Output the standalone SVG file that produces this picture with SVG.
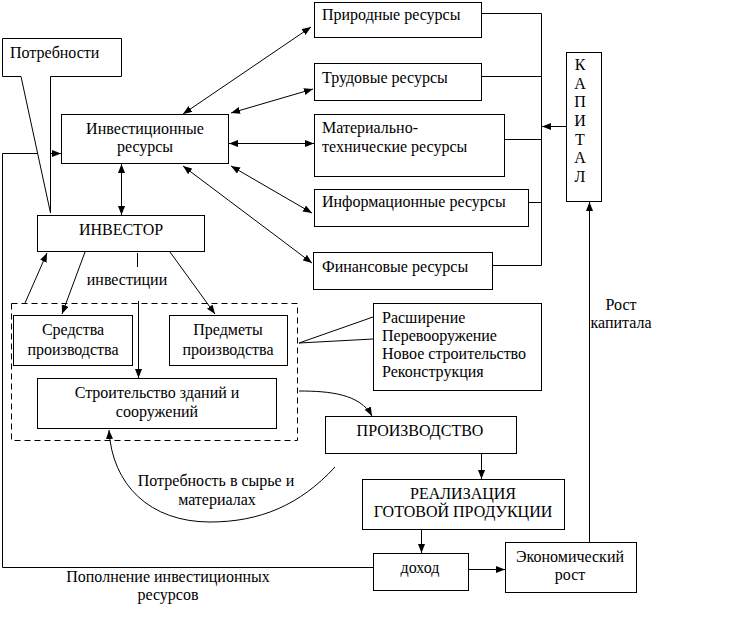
<svg xmlns="http://www.w3.org/2000/svg" width="729" height="626" viewBox="0 0 729 626">
<style>
.b{fill:#fff;stroke:#000;stroke-width:1}
.l{fill:none;stroke:#000;stroke-width:1}
.d{fill:none;stroke:#000;stroke-width:1;stroke-dasharray:6 4}
text{font-family:"Liberation Serif","Times New Roman",serif;font-size:16px;fill:#000}
.m{text-anchor:middle}
</style>
<defs>
<marker id="a" markerUnits="userSpaceOnUse" markerWidth="9" markerHeight="7" refX="9" refY="3.5" orient="auto-start-reverse">
<path d="M0,0 L9,3.5 L0,7 z" fill="#000"/>
</marker>
</defs>
<rect width="729" height="626" fill="#fff"/>

<g id="connectors">
<!-- from Инвестиционные ресурсы to resources -->
<line class="l" x1="183" y1="114" x2="311" y2="27" marker-start="url(#a)" marker-end="url(#a)"/>
<line class="l" x1="231" y1="113" x2="313" y2="89" marker-start="url(#a)" marker-end="url(#a)"/>
<line class="l" x1="229" y1="143.5" x2="314" y2="143.5" marker-start="url(#a)" marker-end="url(#a)"/>
<line class="l" x1="231" y1="166" x2="312" y2="213" marker-start="url(#a)" marker-end="url(#a)"/>
<line class="l" x1="183" y1="166" x2="312" y2="263" marker-start="url(#a)" marker-end="url(#a)"/>
<!-- Инвест ресурсы <-> ИНВЕСТОР -->
<line class="l" x1="121.5" y1="164" x2="121.5" y2="215" marker-start="url(#a)" marker-end="url(#a)"/>
<!-- resources bracket -->
<polyline class="l" points="482,13.5 541.5,13.5 541.5,265.5 493,265.5"/>
<line class="l" x1="482" y1="76.5" x2="541.5" y2="76.5"/>
<line class="l" x1="505" y1="139.5" x2="541.5" y2="139.5"/>
<line class="l" x1="529" y1="202.5" x2="541.5" y2="202.5"/>
<line class="l" x1="566" y1="126.5" x2="542" y2="126.5" marker-end="url(#a)"/>
<!-- ИНВЕСТОР to dashed group -->
<line class="l" x1="85" y1="252" x2="62" y2="314" marker-end="url(#a)"/>
<line class="l" x1="170" y1="252" x2="215" y2="314" marker-end="url(#a)"/>
<line class="l" x1="25" y1="303" x2="47" y2="253" marker-end="url(#a)"/>
<line class="l" x1="137.5" y1="253" x2="137.5" y2="267"/>
<line class="l" x1="138.5" y1="301" x2="138.5" y2="378" marker-end="url(#a)"/>
<!-- Расширение callout -->
<polyline class="l" points="373,317 299,343 373,339"/>
<!-- dashed group to ПРОИЗВОДСТВО -->
<path class="l" d="M299,391 C330,391 360,394 372,416" marker-end="url(#a)"/>
<!-- Потребность в сырье и материалах -->
<path class="l" d="M335,467 C300,505 260,522 210,522 C150,522 112,485 109,430" marker-end="url(#a)"/>
<!-- ПРОИЗВОДСТВО -> РЕАЛИЗАЦИЯ -->
<line class="l" x1="481.5" y1="454" x2="481.5" y2="479" marker-end="url(#a)"/>
<!-- РЕАЛИЗАЦИЯ -> доход -->
<line class="l" x1="421.5" y1="530" x2="421.5" y2="553" marker-end="url(#a)"/>
<!-- доход -> Экономический рост -->
<line class="l" x1="469" y1="569.5" x2="505" y2="569.5" marker-end="url(#a)"/>
<!-- Экономический рост -> КАПИТАЛ -->
<line class="l" x1="589.5" y1="542" x2="589.5" y2="202" marker-end="url(#a)"/>
<!-- feedback: доход -> Инвестиционные ресурсы -->
<polyline class="l" points="373,567.5 2.5,567.5 2.5,153.5 61,153.5" marker-end="url(#a)"/>
</g>

<g id="potrebnosti">
<path class="b" d="M2.5,38.5 H121.5 V76.5 H50.5 V213 L21,76.5 H2.5 Z"/>
<text x="10" y="58">Потребности</text>
</g>

<g id="invest-resources">
<rect class="b" x="61.5" y="114.5" width="167" height="49"/>
<text class="m" x="145" y="134">Инвестиционные</text>
<text class="m" x="145" y="152">ресурсы</text>
</g>

<g id="investor">
<rect class="b" x="37.5" y="215.5" width="167" height="36"/>
<text class="m" x="121" y="235">ИНВЕСТОР</text>
</g>

<g id="label-investicii">
<text class="m" x="127" y="285">инвестиции</text>
</g>

<g id="natural">
<rect class="b" x="314.5" y="2.5" width="167" height="35"/>
<text x="322" y="20">Природные ресурсы</text>
</g>
<g id="labour">
<rect class="b" x="314.5" y="63.5" width="167" height="37"/>
<text x="322" y="83">Трудовые ресурсы</text>
</g>
<g id="material">
<rect class="b" x="314.5" y="114.5" width="190" height="62"/>
<text x="322" y="133">Материально-</text>
<text x="322" y="152">технические ресурсы</text>
</g>
<g id="information">
<rect class="b" x="314.5" y="189.5" width="214" height="37"/>
<text x="322" y="207">Информационные ресурсы</text>
</g>
<g id="financial">
<rect class="b" x="313.5" y="252.5" width="179" height="37"/>
<text x="322" y="272">Финансовые ресурсы</text>
</g>

<g id="capital">
<rect class="b" x="566.5" y="52.5" width="35" height="149"/>
<text class="m" x="580" y="70">К</text>
<text class="m" x="580" y="89">А</text>
<text class="m" x="580" y="107">П</text>
<text class="m" x="580" y="126">И</text>
<text class="m" x="580" y="145">Т</text>
<text class="m" x="580" y="163">А</text>
<text class="m" x="580" y="182">Л</text>
</g>

<g id="investment-group">
<rect class="d" x="11.5" y="303.5" width="286" height="137"/>
</g>
<g id="sredstva">
<rect class="b" x="13.5" y="315.5" width="119" height="50"/>
<text class="m" x="73" y="335">Средства</text>
<text class="m" x="73" y="355">производства</text>
</g>
<g id="predmety">
<rect class="b" x="169.5" y="315.5" width="118" height="50"/>
<text class="m" x="228" y="335">Предметы</text>
<text class="m" x="228" y="355">производства</text>
</g>
<g id="stroitelstvo">
<rect class="b" x="37.5" y="378.5" width="239" height="50"/>
<text class="m" x="157" y="398">Строительство зданий и</text>
<text class="m" x="157" y="417">сооружений</text>
</g>

<g id="forms">
<rect class="b" x="373.5" y="303.5" width="168" height="87"/>
<text x="382" y="323">Расширение</text>
<text x="382" y="341">Перевооружение</text>
<text x="382" y="359">Новое строительство</text>
<text x="382" y="377">Реконструкция</text>
</g>

<g id="production">
<rect class="b" x="325.5" y="416.5" width="191" height="37"/>
<text class="m" x="420" y="436">ПРОИЗВОДСТВО</text>
</g>

<g id="realization">
<rect class="b" x="362.5" y="479.5" width="202" height="50"/>
<text class="m" x="463" y="499">РЕАЛИЗАЦИЯ</text>
<text class="m" x="463" y="517">ГОТОВОЙ ПРОДУКЦИИ</text>
</g>

<g id="income">
<rect class="b" x="373.5" y="553.5" width="95" height="37"/>
<text class="m" x="420" y="573">доход</text>
</g>

<g id="growth">
<rect class="b" x="505.5" y="542.5" width="131" height="50"/>
<text class="m" x="570" y="562">Экономический</text>
<text class="m" x="570" y="580">рост</text>
</g>

<g id="labels">
<text class="m" x="621" y="310">Рост</text>
<text class="m" x="621" y="328">капитала</text>
<text class="m" x="216" y="486">Потребность в сырье и</text>
<text class="m" x="217" y="505">материалах</text>
<text class="m" x="168" y="582">Пополнение инвестиционных</text>
<text class="m" x="168" y="600">ресурсов</text>
</g>
</svg>
